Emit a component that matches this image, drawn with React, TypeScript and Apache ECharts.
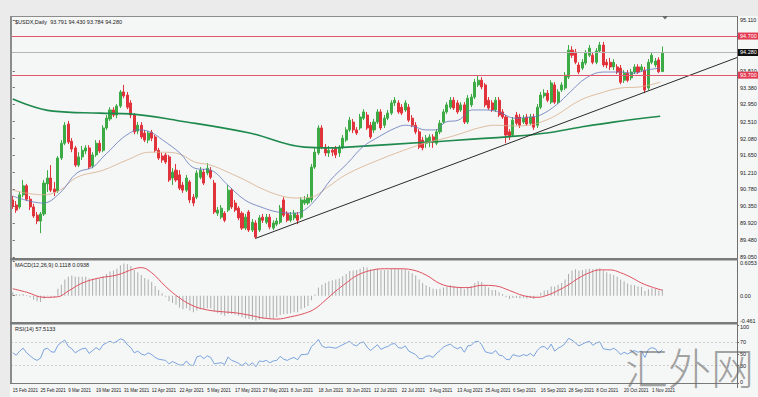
import React, { useEffect, useRef } from "react";
import * as echarts from "echarts";

// ---------- data ----------
// daily bars: [open, close, low, high]
const ohlc: number[][] = [
  [90.51, 90.35, 90.28, 90.61], [90.38, 90.25, 90.18, 90.48], [90.33, 90.64, 90.28, 90.71], [90.64, 90.87, 90.58, 91.02],
  [90.87, 90.53, 90.48, 90.92], [90.53, 90.33, 90.25, 90.61], [90.33, 90.10, 90.05, 90.41], [90.12, 89.97, 89.89, 90.20],
  [89.97, 90.15, 89.66, 90.20], [90.15, 90.94, 90.10, 91.02], [90.92, 91.07, 90.71, 91.27], [91.07, 90.76, 90.71, 91.40],
  [90.79, 90.71, 90.61, 90.97], [90.74, 91.58, 90.69, 91.63], [91.58, 91.96, 91.53, 92.04], [91.96, 92.42, 91.91, 92.50],
  [92.45, 91.99, 91.94, 92.53], [92.01, 91.81, 91.73, 92.09], [91.84, 91.40, 91.35, 91.89], [91.40, 91.61, 91.35, 91.73],
  [91.61, 91.78, 91.53, 91.89], [91.76, 91.84, 91.68, 91.91], [91.84, 91.35, 91.30, 91.91], [91.38, 91.66, 91.32, 91.73],
  [91.66, 91.96, 91.61, 92.04], [91.96, 91.76, 91.71, 92.04], [91.78, 92.35, 91.73, 92.42], [92.35, 92.60, 92.30, 92.68],
  [92.58, 92.81, 92.53, 92.88], [92.81, 92.68, 92.63, 92.88], [92.68, 92.91, 92.60, 92.96], [92.91, 93.27, 92.86, 93.32],
  [93.27, 93.17, 93.11, 93.45], [93.19, 92.88, 92.83, 93.27], [92.99, 92.68, 92.60, 93.06], [92.68, 92.25, 92.19, 92.73],
  [92.27, 92.42, 92.19, 92.50], [92.42, 92.12, 92.07, 92.50], [92.22, 92.04, 91.99, 92.30], [92.04, 92.22, 91.96, 92.27],
  [92.24, 92.09, 92.01, 92.30], [92.12, 91.78, 91.73, 92.17], [91.78, 91.58, 91.53, 91.84], [91.63, 91.53, 91.46, 91.71],
  [91.66, 91.48, 91.43, 91.71], [91.61, 91.02, 90.97, 91.66], [91.07, 91.22, 90.89, 91.32], [91.27, 91.02, 90.97, 91.43],
  [91.15, 90.81, 90.76, 91.27], [90.89, 90.76, 90.69, 90.97], [90.76, 91.07, 90.71, 91.15], [90.97, 90.51, 90.43, 91.02],
  [90.58, 90.43, 90.35, 90.66], [90.58, 91.20, 90.53, 91.27], [91.09, 91.27, 91.04, 91.35], [91.22, 90.94, 90.89, 91.30],
  [91.20, 91.32, 91.14, 91.45], [91.27, 91.09, 91.04, 91.35], [90.94, 90.20, 90.15, 91.02], [90.17, 90.25, 90.10, 90.33],
  [90.07, 90.30, 90.02, 90.38], [90.17, 89.99, 89.94, 90.22], [90.25, 90.76, 90.20, 90.89], [90.76, 90.33, 90.28, 90.81],
  [90.43, 90.25, 90.20, 90.51], [90.30, 90.05, 89.99, 90.35], [90.17, 89.79, 89.74, 90.22], [89.79, 90.07, 89.74, 90.15],
  [90.20, 89.74, 89.69, 90.25], [89.74, 89.94, 89.69, 90.02], [89.92, 89.56, 89.51, 89.99], [89.74, 90.05, 89.69, 90.12],
  [90.07, 89.99, 89.92, 90.15], [89.94, 90.07, 89.89, 90.15], [90.07, 89.82, 89.76, 90.15], [89.79, 89.92, 89.74, 89.99],
  [89.89, 89.97, 89.84, 90.05], [89.94, 90.30, 89.89, 90.38], [90.51, 90.12, 90.07, 90.58], [90.17, 89.99, 89.94, 90.22],
  [89.99, 90.12, 89.94, 90.20], [90.05, 90.17, 89.99, 90.25], [90.12, 89.99, 89.89, 90.20], [90.07, 90.51, 90.02, 90.58],
  [90.43, 90.51, 90.38, 90.61], [90.43, 90.56, 90.38, 90.66], [90.51, 91.35, 90.45, 91.43], [91.35, 91.73, 91.30, 91.84],
  [91.71, 92.35, 91.66, 92.42], [92.35, 91.86, 91.81, 92.42], [91.86, 91.71, 91.63, 91.94], [91.71, 91.78, 91.61, 91.89],
  [91.78, 91.73, 91.63, 91.86], [91.84, 91.66, 91.58, 91.89], [91.71, 91.86, 91.61, 91.91], [91.86, 92.09, 91.81, 92.17],
  [92.04, 92.30, 91.99, 92.37], [92.30, 92.55, 92.25, 92.63], [92.50, 92.30, 92.22, 92.58], [92.30, 92.22, 92.17, 92.37],
  [92.35, 92.63, 92.30, 92.71], [92.60, 92.76, 92.55, 92.83], [92.68, 92.35, 92.30, 92.76], [92.42, 92.12, 92.07, 92.50],
  [92.30, 92.50, 92.22, 92.58], [92.50, 92.76, 92.45, 92.83], [92.76, 92.35, 92.30, 92.83], [92.42, 92.60, 92.35, 92.68],
  [92.60, 92.73, 92.55, 92.81], [92.73, 92.99, 92.68, 93.06], [92.99, 93.06, 92.91, 93.14], [92.99, 92.76, 92.71, 93.06],
  [92.88, 92.73, 92.68, 92.96], [92.81, 92.99, 92.76, 93.06], [92.88, 92.55, 92.50, 92.96], [92.60, 92.42, 92.37, 92.68],
  [92.42, 92.25, 92.19, 92.50], [92.25, 91.86, 91.81, 92.32], [92.04, 91.84, 91.78, 92.12], [91.96, 92.09, 91.84, 92.17],
  [91.99, 92.12, 91.86, 92.19], [92.12, 91.99, 91.84, 92.19], [91.96, 92.25, 91.91, 92.32], [92.25, 92.47, 92.19, 92.55],
  [92.50, 92.76, 92.45, 92.83], [92.76, 92.94, 92.71, 93.01], [92.88, 93.06, 92.83, 93.14], [93.06, 92.86, 92.81, 93.14],
  [92.99, 92.76, 92.71, 93.06], [92.81, 92.94, 92.76, 93.01], [92.94, 92.50, 92.45, 93.01], [92.50, 93.11, 92.45, 93.19],
  [92.94, 93.14, 92.88, 93.22], [93.14, 93.52, 93.09, 93.60], [93.45, 93.57, 93.40, 93.70], [93.57, 93.40, 93.34, 93.65],
  [93.45, 92.94, 92.88, 93.50], [93.06, 92.86, 92.81, 93.14], [92.99, 92.81, 92.76, 93.06], [92.81, 93.06, 92.76, 93.14],
  [93.06, 92.68, 92.63, 93.14], [92.76, 92.63, 92.58, 92.83], [92.63, 92.17, 91.96, 92.68], [92.25, 92.12, 92.04, 92.32],
  [92.17, 92.55, 92.12, 92.63], [92.68, 92.47, 92.42, 92.76], [92.63, 92.42, 92.35, 92.71], [92.50, 92.60, 92.45, 92.68],
  [92.63, 92.45, 92.40, 92.71], [92.47, 92.63, 92.42, 92.71], [92.63, 92.37, 92.30, 92.71], [92.42, 92.88, 92.35, 92.96],
  [92.88, 93.19, 92.83, 93.27], [93.17, 93.24, 93.11, 93.34], [93.24, 93.06, 93.01, 93.32], [93.01, 93.50, 92.96, 93.57],
  [93.45, 93.01, 92.96, 93.52], [93.01, 93.27, 92.96, 93.34], [93.32, 93.45, 93.27, 93.52], [93.37, 93.70, 93.32, 93.78],
  [93.65, 94.34, 93.60, 94.47], [94.34, 94.21, 94.14, 94.44], [94.29, 94.03, 93.98, 94.37], [93.96, 93.78, 93.73, 94.03],
  [93.88, 94.03, 93.83, 94.11], [94.01, 94.26, 93.96, 94.34], [94.21, 94.39, 94.16, 94.47], [94.21, 94.03, 93.98, 94.29],
  [94.03, 94.32, 93.98, 94.39], [94.32, 94.47, 94.27, 94.55], [94.47, 93.96, 93.91, 94.55], [94.03, 93.96, 93.88, 94.11],
  [94.03, 93.91, 93.83, 94.14], [93.91, 94.03, 93.83, 94.11], [93.91, 93.78, 93.73, 93.98], [93.88, 93.52, 93.47, 93.96],
  [93.57, 93.75, 93.50, 93.83], [93.75, 93.57, 93.52, 93.83], [93.63, 93.78, 93.57, 93.86], [93.78, 93.91, 93.73, 93.98],
  [93.91, 93.78, 93.73, 93.98], [93.83, 93.91, 93.78, 93.98], [93.83, 93.32, 93.24, 93.91], [93.37, 94.03, 93.32, 94.11],
  [94.03, 94.21, 93.98, 94.29], [93.96, 94.06, 93.90, 94.14], [94.09, 93.79, 93.75, 94.16], [93.791, 94.28, 93.784, 94.43],
];

// moving averages read as [bar index, price]
const maBlue: number[][] = [
  [0, 90.61], [8.7, 90.43], [13.6, 90.69], [18.5, 91.2], [23.1, 91.35], [26, 91.61], [28, 91.78], [30.9, 92.04],
  [33.7, 92.22], [35.7, 92.3], [39.5, 92.25], [43.2, 92.04], [48.1, 91.71], [52.4, 91.32], [57, 91.27], [61.9, 90.89],
  [66.8, 90.51], [71.4, 90.33], [76.3, 90.2], [81.2, 90.17], [84, 90.25], [87.8, 90.58], [91.5, 91.02], [96.4, 91.45],
  [100.7, 91.86], [105.3, 92.12], [110.2, 92.35], [113.1, 92.42], [116, 92.37], [118.8, 92.3], [121.7, 92.3], [124.6, 92.5],
  [128.3, 92.55], [132.3, 92.81], [136.1, 92.81], [139.8, 92.76], [144.7, 92.6], [149, 92.63], [151.9, 92.68], [156.5, 92.94],
  [160.5, 93.27], [165.1, 93.63], [170, 93.78], [174.9, 93.78], [178.6, 93.75], [182.4, 93.83], [186.4, 93.88],
];
const maTan: number[][] = [
  [0, 90.76], [8.7, 90.64], [13.6, 90.76], [18.5, 91.09], [26, 91.27], [32.9, 91.53], [39.5, 91.73], [43.2, 91.73],
  [48.1, 91.68], [52.4, 91.48], [57, 91.4], [61.9, 91.22], [66.8, 91.02], [71.4, 90.81], [76.3, 90.64], [81.2, 90.56],
  [85.8, 90.58], [90.7, 90.84], [95.8, 91.15], [105.3, 91.53], [115.1, 91.86], [119.7, 91.99], [124.6, 92.09], [129.5, 92.22],
  [134.1, 92.35], [139, 92.42], [144.7, 92.4], [153.6, 92.55], [163.4, 93.06], [169.1, 93.24], [174.9, 93.37], [180.6, 93.4],
  [186.4, 93.52],
];
const maGreen: number[][] = [
  [0, 93.09], [11.6, 92.78], [25.1, 92.73], [33.7, 92.71], [48.1, 92.53], [68.2, 92.22], [84, 91.86], [91.2, 91.84],
  [96.4, 91.86], [119.7, 91.99], [144.7, 92.14], [153.6, 92.22], [163.4, 92.37], [172.9, 92.5], [186.4, 92.65],
];
const trendLine: number[][] = [[70, 89.53], [208.5, 94.15]];
const redLevels = [94.7, 93.7];
const bidPrice = 94.28;

const macdHist: number[] = [
  0.06, 0.03, 0.02, 0.03, 0.01, -0.03, -0.07, -0.1, -0.11, -0.05,
  -0.01, -0.02, -0.03, 0.12, 0.19, 0.28, 0.33, 0.35, 0.33, 0.33,
  0.33, 0.33, 0.3, 0.3, 0.31, 0.3, 0.34, 0.38, 0.42, 0.44,
  0.47, 0.53, 0.56, 0.55, 0.52, 0.45, 0.41, 0.36, 0.31, 0.28,
  0.24, 0.17, 0.1, 0.04, -0.02, -0.1, -0.13, -0.16, -0.21, -0.24,
  -0.22, -0.26, -0.29, -0.26, -0.24, -0.24, -0.22, -0.22, -0.28, -0.31,
  -0.33, -0.35, -0.32, -0.32, -0.33, -0.35, -0.38, -0.4, -0.41, -0.42,
  -0.44, -0.42, -0.41, -0.4, -0.4, -0.4, -0.38, -0.34, -0.32, -0.32,
  -0.31, -0.29, -0.29, -0.24, -0.21, -0.18, -0.08, 0.02, 0.14, 0.19,
  0.22, 0.25, 0.27, 0.28, 0.3, 0.34, 0.38, 0.43, 0.44, 0.45,
  0.47, 0.5, 0.49, 0.46, 0.46, 0.47, 0.45, 0.45, 0.45, 0.47,
  0.48, 0.47, 0.46, 0.46, 0.43, 0.39, 0.35, 0.28, 0.22, 0.18,
  0.15, 0.12, 0.11, 0.12, 0.14, 0.16, 0.18, 0.17, 0.15, 0.15,
  0.11, 0.15, 0.17, 0.22, 0.25, 0.24, 0.18, 0.14, 0.1, 0.1,
  0.06, 0.03, -0.03, -0.06, -0.04, -0.04, -0.05, -0.04, -0.05, -0.04,
  -0.06, -0.01, 0.05, 0.09, 0.1, 0.16, 0.16, 0.19, 0.22, 0.28,
  0.38, 0.44, 0.46, 0.44, 0.45, 0.46, 0.47, 0.46, 0.47, 0.48,
  0.44, 0.41, 0.38, 0.36, 0.33, 0.28, 0.25, 0.21, 0.19, 0.18,
  0.16, 0.15, 0.08, 0.11, 0.13, 0.12, 0.09, 0.1118,
];
const macdSignal: number[][] = [
  [0, 0.12], [4, 0.06], [9, -0.03], [13, -0.02], [16, 0.08], [20, 0.22], [25, 0.31], [30, 0.36], [35, 0.47], [37, 0.49],
  [40, 0.4], [44, 0.16], [48, -0.04], [52, -0.18], [56, -0.25], [60, -0.28], [64, -0.3], [68, -0.34], [72, -0.39], [76, -0.41],
  [80, -0.37], [84, -0.31], [87, -0.23], [90, -0.08], [93, 0.08], [96, 0.22], [99, 0.35], [103, 0.44], [107, 0.47], [111, 0.47],
  [115, 0.45], [119, 0.36], [123, 0.21], [127, 0.15], [131, 0.14], [135, 0.18], [139, 0.17], [143, 0.09], [147, 0.0], [151, -0.03],
  [154, 0.01], [157, 0.09], [160, 0.19], [163, 0.31], [166, 0.4], [169, 0.45], [172, 0.45], [175, 0.4], [178, 0.32], [181, 0.22],
  [184, 0.15], [187, 0.0938],
];

const rsi: number[] = [
  52, 48, 55, 60, 52, 47, 42, 39, 43, 58,
  60, 54, 53, 65, 70, 74, 63, 59, 52, 56,
  59, 60, 51, 56, 61, 57, 66, 69, 72, 69,
  72, 76, 74, 66, 61, 52, 55, 50, 48, 52,
  49, 44, 41, 40, 39, 33, 37, 34, 31, 31,
  38, 31, 30, 45, 47, 42, 47, 44, 33, 34,
  35, 32, 45, 39, 37, 34, 30, 35, 30, 35,
  28, 38, 37, 39, 35, 38, 39, 46, 41, 39,
  42, 44, 40, 49, 49, 50, 63, 68, 75, 64,
  61, 62, 61, 60, 63, 66, 69, 72, 66, 64,
  69, 71, 62, 56, 61, 66, 58, 61, 63, 67,
  68, 61, 60, 64, 55, 52, 49, 42, 42, 46,
  47, 44, 51, 56, 62, 65, 67, 62, 59, 62,
  53, 64, 65, 71, 72, 66, 54, 52, 51, 56,
  48, 47, 41, 40, 49, 47, 46, 49, 47, 51,
  46, 56, 62, 63, 58, 67, 55, 60, 63, 68,
  77, 74, 69, 64, 67, 70, 72, 65, 69, 71,
  59, 58, 57, 60, 56, 49, 53, 50, 53, 56,
  53, 55, 44, 58, 61, 59, 51, 57.51,
];

const priceTicks = [95.11, 93.81, 93.38, 92.95, 92.51, 92.08, 91.65, 91.21, 90.78, 90.35, 89.92, 89.48, 89.05];
const macdTicks = [0.6053, 0, -0.461];
const macdTickText = ["{t|0.6053}", "0.00", "{b|-0.461}"];
const rsiTicks = [100, 70, 50, 30, 0];
const rsiTickText = ["{t|100}", "70", "50", "30", "{b|0}"];
const rsiLevels = [70, 30];

const titleMain = "$USDX,Daily  93.791 94.430 93.784 94.280";
const titleMacd = "MACD(12,26,9) 0.1118 0.0938";
const titleRsi = "RSI(14) 57.5133";
const watermark = "汇外网";

const firstBarDay = Date.UTC(2021, 1, 15);
const missingDays = ["2021-05-03"];
const emptyBarsRight = 21;
const MONTHS = ["Jan", "Feb", "Mar", "Apr", "May", "Jun", "Jul", "Aug", "Sep", "Oct", "Nov", "Dec"];

function buildCategories(count: number): string[] {
  const out: string[] = [];
  let t = firstBarDay;
  while (out.length < count) {
    const d = new Date(t);
    const wd = d.getUTCDay();
    const iso = d.toISOString().slice(0, 10);
    if (wd !== 0 && wd !== 6 && !missingDays.includes(iso)) {
      out.push(`${d.getUTCDate()} ${MONTHS[d.getUTCMonth()]} ${d.getUTCFullYear()}`);
    }
    t += 86400000;
  }
  for (let k = 0; k < emptyBarsRight; k++) out.push("");
  return out;
}

const FONT = "Liberation Sans";

export default function App() {
  const ref = useRef<HTMLDivElement>(null);

  useEffect(() => {
    if (!ref.current) return;
    const chart = echarts.init(ref.current, null, { renderer: "svg" });
    const nBars = ohlc.length;
    const cats = buildCategories(nBars);
    const nCats = cats.length;
    const vMin = -0.5;
    const vMax = nCats - 0.5;

    const L = 11, R = 758 - 737;
    const grids = [
      { left: L, right: R, top: 17, height: 241 },
      { left: L, right: R, top: 261, height: 61 },
      { left: L, right: R, top: 325, height: 58 },
    ].map((g) => ({ ...g, outerBoundsMode: "none", containLabel: false }));

    const hiddenCat = (gi: number) => ({
      type: "category", gridIndex: gi, data: cats, boundaryGap: true,
      axisLine: { show: false }, axisTick: { show: false }, axisLabel: { show: false }, splitLine: { show: false },
    });
    const hiddenVal = (gi: number) => ({
      type: "value", gridIndex: gi, min: vMin, max: vMax, show: false, splitLine: { show: false },
    });

    const labelStyle = { fontSize: 5.5, color: "#222", fontFamily: FONT, margin: 3 };
    const edgeRich = {
      t: { fontSize: 5.5, color: "#222", fontFamily: FONT, padding: [4, 0, 0, 0] },
      b: { fontSize: 5.5, color: "#222", fontFamily: FONT, padding: [0, 0, 3, 0] },
    };

    const option: any = {
      animation: false,
      backgroundColor: "#f5f6f6",
      grid: grids,
      xAxis: [
        hiddenCat(0), hiddenVal(0), hiddenCat(1), hiddenVal(1),
        {
          type: "category", gridIndex: 2, data: cats, boundaryGap: true,
          axisLine: { show: false }, axisTick: { show: false }, splitLine: { show: false },
          axisLabel: {
            show: true, interval: (idx: number) => idx % 8 === 0 && idx < nBars,
            showMinLabel: true, showMaxLabel: true,
            align: "left", fontSize: 4.5, color: "#222", fontFamily: FONT, margin: 5, hideOverlap: false,
          },
        },
      ],
      yAxis: [
        {
          type: "value", gridIndex: 0, position: "right", min: 89.025, max: 95.187, scale: true,
          splitLine: { show: false }, axisLine: { show: false },
          axisTick: { show: true, length: 2, lineStyle: { color: "#666" }, customValues: priceTicks },
          axisLabel: { ...labelStyle, customValues: priceTicks, formatter: (v: number) => v.toFixed(3) },
        },
        {
          type: "value", gridIndex: 1, position: "right", min: -0.461, max: 0.6053,
          splitLine: { show: false }, axisLine: { show: false },
          axisTick: { show: true, length: 2, lineStyle: { color: "#666" }, customValues: macdTicks },
          axisLabel: {
            ...labelStyle, customValues: macdTicks, rich: edgeRich,
            formatter: (v: number) => { const k = macdTicks.indexOf(v); return k >= 0 ? macdTickText[k] : String(v); },
          },
        },
        {
          type: "value", gridIndex: 2, position: "right", min: 0, max: 100,
          splitLine: { show: false }, axisLine: { show: false },
          axisTick: { show: true, length: 2, lineStyle: { color: "#666" }, customValues: rsiTicks },
          axisLabel: {
            ...labelStyle, customValues: rsiTicks, rich: edgeRich,
            formatter: (v: number) => { const k = rsiTicks.indexOf(v); return k >= 0 ? rsiTickText[k] : String(v); },
          },
        },
      ],
      series: [
        {
          type: "candlestick", xAxisIndex: 0, yAxisIndex: 0, data: ohlc, barWidth: 2.6,
          itemStyle: { color: "#3dab45", color0: "#e1333b", borderColor: "#3dab45", borderColor0: "#e1333b", borderWidth: 1 },
          markLine: {
            silent: true, symbol: ["none", "none"], animation: false,
            data: [
              ...redLevels.map((v) => ({
                yAxis: v,
                lineStyle: { color: "#e0566a", width: 1, type: "solid" },
                label: {
                  show: true, position: "end", distance: 1, formatter: v.toFixed(3), color: "#fff",
                  backgroundColor: "#e23a52", padding: [1, 2, 0, 2], fontSize: 5.5, fontFamily: FONT,
                },
              })),
              {
                yAxis: bidPrice,
                lineStyle: { color: "#b5b5b5", width: 1, type: "solid" },
                label: {
                  show: true, position: "end", distance: 1, formatter: bidPrice.toFixed(3), color: "#fff",
                  backgroundColor: "#111", padding: [1, 2, 0, 2], fontSize: 5.5, fontFamily: FONT,
                },
              },
            ],
          },
        },
        { type: "line", xAxisIndex: 1, yAxisIndex: 0, data: maGreen, showSymbol: false, smooth: 0.4, lineStyle: { color: "#1f8a4d", width: 1.6 } },
        { type: "line", xAxisIndex: 1, yAxisIndex: 0, data: maTan, showSymbol: false, smooth: 0.4, lineStyle: { color: "#d8b08a", width: 0.8 } },
        { type: "line", xAxisIndex: 1, yAxisIndex: 0, data: maBlue, showSymbol: false, smooth: 0.4, lineStyle: { color: "#6377bb", width: 0.8 } },
        { type: "line", xAxisIndex: 1, yAxisIndex: 0, data: trendLine, showSymbol: false, clip: false, lineStyle: { color: "#2a2a2a", width: 1 } },
        { type: "bar", xAxisIndex: 2, yAxisIndex: 1, data: macdHist, barWidth: 1, itemStyle: { color: "#adadad" } },
        { type: "line", xAxisIndex: 3, yAxisIndex: 1, data: macdSignal, showSymbol: false, smooth: 0.4, lineStyle: { color: "#e0505e", width: 1 } },
        {
          type: "line", xAxisIndex: 4, yAxisIndex: 2, data: rsi, showSymbol: false, lineStyle: { color: "#5b8fd8", width: 0.8 },
          markLine: {
            silent: true, symbol: ["none", "none"], label: { show: false },
            data: rsiLevels.map((v) => ({ yAxis: v })),
            lineStyle: { color: "#c4c4c4", width: 0.8, type: [2, 2] },
          },
        },
      ],
      graphic: [
        { type: "rect", z: 50, shape: { x: 0, y: 0, width: 758, height: 16 }, style: { fill: "#ebebeb" } },
        { type: "rect", z: 50, shape: { x: 0, y: 16, width: 10, height: 381 }, style: { fill: "#ebebeb" } },
        { type: "rect", z: 60, shape: { x: 10, y: 16, width: 728, height: 1 }, style: { fill: "#8c8c8c" } },
        { type: "rect", z: 60, shape: { x: 10, y: 16, width: 2, height: 368 }, style: { fill: "#8c8c8c" } },
        { type: "rect", z: 60, shape: { x: 737, y: 16, width: 1, height: 372 }, style: { fill: "#707070" } },
        { type: "rect", z: 60, shape: { x: 10, y: 258, width: 728, height: 2.5 }, style: { fill: "#7a7a7a" } },
        { type: "rect", z: 60, shape: { x: 10, y: 322, width: 728, height: 2.5 }, style: { fill: "#7a7a7a" } },
        { type: "rect", z: 60, shape: { x: 10, y: 383, width: 728, height: 1 }, style: { fill: "#7a7a7a" } },
        { type: "polygon", z: 60, shape: { points: [[662, 16], [668, 16], [665, 19.5]] }, style: { fill: "#6a6a6a" } },
        { type: "text", z: 70, style: { text: titleMain, x: 15, y: 19, fontSize: 5.5, fill: "#222", fontFamily: FONT } },
        { type: "text", z: 70, style: { text: titleMacd, x: 15, y: 262, fontSize: 5.5, fill: "#222", fontFamily: FONT } },
        { type: "text", z: 70, style: { text: titleRsi, x: 15, y: 326, fontSize: 5.5, fill: "#222", fontFamily: FONT } },
        {
          type: "text", z: 80,
          style: { text: watermark, x: 625, y: 344, fontSize: 43, fill: "rgba(105,105,105,0.6)", fontFamily: "Noto Sans CJK SC", fontWeight: 300 },
        },
      ],
    };

    chart.setOption(option);
    return () => chart.dispose();
  }, []);

  return (
    <div
      ref={ref}
      style={{ position: "fixed", left: 0, top: 0, width: 758, height: 397, background: "#f5f6f6" }}
    />
  );
}
